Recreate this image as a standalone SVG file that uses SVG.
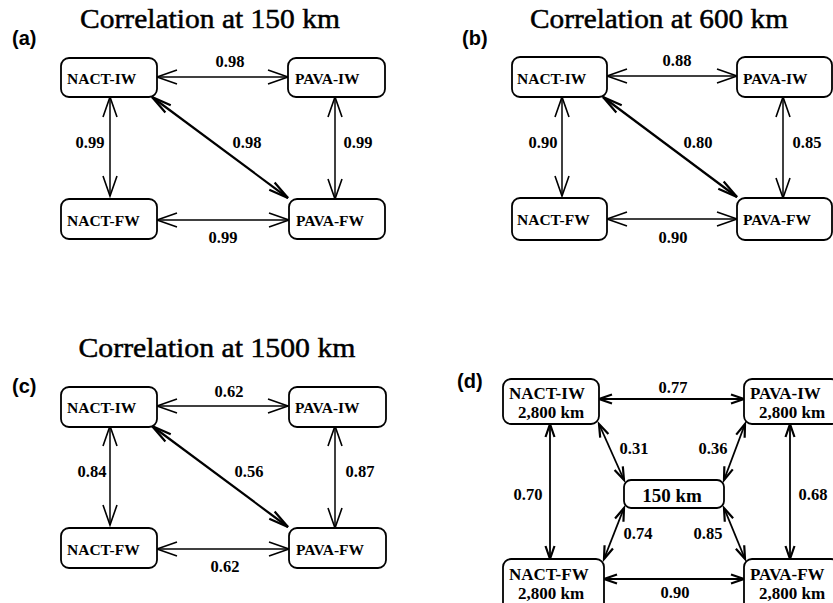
<svg xmlns="http://www.w3.org/2000/svg" width="833" height="603" viewBox="0 0 833 603">
<style>
.bg{fill:#fff}
.box{fill:#fff;stroke:#000;stroke-width:1.8}
.title{font-family:"Liberation Serif",serif;font-size:28px;fill:#000;stroke:#000;stroke-width:0.5;text-anchor:middle}
.plabel{font-family:"Liberation Sans",Arial,sans-serif;font-weight:bold;font-size:20px;fill:#000}
.nl{font-family:"Liberation Serif",serif;font-weight:bold;font-size:15.5px;fill:#000}
.nd{font-family:"Liberation Serif",serif;font-weight:bold;font-size:17px;fill:#000}
.num{font-family:"Liberation Serif",serif;font-weight:bold;font-size:16.5px;fill:#000;text-anchor:middle}
.km{font-family:"Liberation Serif",serif;font-weight:bold;font-size:19px;fill:#000;text-anchor:middle}
.a{fill:none;stroke:#000;stroke-width:1.5;marker-start:url(#ha);marker-end:url(#ha)}
.d{fill:none;stroke:#000;stroke-width:2.2;marker-start:url(#hd);marker-end:url(#hd)}
.s{fill:none;stroke:#000;stroke-width:1.8;marker-start:url(#hs);marker-end:url(#hs)}
</style>
<defs>
<marker id="ha" markerUnits="userSpaceOnUse" orient="auto-start-reverse" refX="0" refY="0" overflow="visible"><path d="M-20,-7 L0,0 L-20,7" fill="none" stroke="#000" stroke-width="1.6"/></marker>
<marker id="hd" markerUnits="userSpaceOnUse" orient="auto-start-reverse" refX="0" refY="0" overflow="visible"><path d="M-20,-4.5 L0,0 L-20,4.5" fill="none" stroke="#000" stroke-width="2.2"/></marker>
<marker id="hs" markerUnits="userSpaceOnUse" orient="auto-start-reverse" refX="0" refY="0" overflow="visible"><path d="M-13,-4.5 L0,0 L-13,4.5" fill="none" stroke="#000" stroke-width="2.2"/></marker>
</defs>
<rect class="bg" x="0" y="0" width="833" height="603"/>

<!-- titles and panel labels -->
<g id="labels">
<text class="title" x="210" y="28" textLength="260" lengthAdjust="spacingAndGlyphs">Correlation at 150 km</text>
<text class="title" x="659" y="28" textLength="258" lengthAdjust="spacingAndGlyphs">Correlation at 600 km</text>
<text class="title" x="217" y="357" textLength="277" lengthAdjust="spacingAndGlyphs">Correlation at 1500 km</text>
<text class="plabel" x="12" y="45">(a)</text>
<text class="plabel" x="462" y="45">(b)</text>
<text class="plabel" x="12" y="393">(c)</text>
<text class="plabel" x="457" y="388">(d)</text>
</g>

<!-- connectors -->
<g id="connectors">
<!-- (a) -->
<path class="a" d="M157,77 L288,77"/>
<path class="a" d="M157,220 L289,220"/>
<path class="a" d="M110,97 L110,196"/>
<path class="a" d="M335,97 L335,199"/>
<path class="d" d="M152,97 L288,198"/>
<!-- (b) -->
<path class="a" d="M607,76 L737,76"/>
<path class="a" d="M607,219 L737,219"/>
<path class="a" d="M562,97 L562,196"/>
<path class="a" d="M783,97 L783,198"/>
<path class="d" d="M603,97 L737,197"/>
<!-- (c) -->
<path class="a" d="M157,406 L288,406"/>
<path class="a" d="M157,549 L289,549"/>
<path class="a" d="M110,426 L110,525"/>
<path class="a" d="M335,426 L335,528"/>
<path class="d" d="M152,426 L288,527"/>
<!-- (d) -->
<path class="s" d="M599,399 L744,399"/>
<path class="s" d="M604,579 L744,579"/>
<path class="s" d="M550,424 L550,559"/>
<path class="s" d="M790,424 L790,559"/>
<path class="s" d="M599,424 L624,480"/>
<path class="s" d="M745,424 L724,480"/>
<path class="s" d="M624,508 L604,559"/>
<path class="s" d="M724,508 L745,559"/>
</g>

<g id="edge-labels">
<text class="num" x="230" y="67">0.98</text>
<text class="num" x="223" y="243">0.99</text>
<text class="num" x="90" y="148">0.99</text>
<text class="num" x="358" y="148">0.99</text>
<text class="num" x="247" y="148">0.98</text>

<text class="num" x="677" y="66">0.88</text>
<text class="num" x="673" y="243">0.90</text>
<text class="num" x="543" y="148">0.90</text>
<text class="num" x="807" y="148">0.85</text>
<text class="num" x="698" y="148">0.80</text>

<text class="num" x="229" y="397">0.62</text>
<text class="num" x="225" y="572">0.62</text>
<text class="num" x="92" y="477">0.84</text>
<text class="num" x="360" y="477">0.87</text>
<text class="num" x="249" y="477">0.56</text>

<text class="num" x="673" y="393">0.77</text>
<text class="num" x="675" y="598">0.90</text>
<text class="num" x="528" y="500">0.70</text>
<text class="num" x="813" y="500">0.68</text>
<text class="num" x="634" y="454">0.31</text>
<text class="num" x="713" y="454">0.36</text>
<text class="num" x="638" y="539">0.74</text>
<text class="num" x="708" y="539">0.85</text>
</g>

<!-- panel (a) nodes -->
<g id="a-nact-iw"><rect class="box" x="61" y="58" width="96" height="39" rx="8"/><text class="nl" x="67" y="84">NACT-IW</text></g>
<g id="a-pava-iw"><rect class="box" x="288" y="58" width="97" height="39" rx="8"/><text class="nl" x="295" y="84">PAVA-IW</text></g>
<g id="a-nact-fw"><rect class="box" x="61" y="199" width="96" height="40" rx="8"/><text class="nl" x="67" y="226">NACT-FW</text></g>
<g id="a-pava-fw"><rect class="box" x="289" y="199" width="96" height="40" rx="8"/><text class="nl" x="296" y="226">PAVA-FW</text></g>

<!-- panel (b) nodes -->
<g id="b-nact-iw"><rect class="box" x="512" y="57" width="95" height="40" rx="8"/><text class="nl" x="517" y="84">NACT-IW</text></g>
<g id="b-pava-iw"><rect class="box" x="737" y="57" width="95" height="40" rx="8"/><text class="nl" x="743" y="84">PAVA-IW</text></g>
<g id="b-nact-fw"><rect class="box" x="512" y="198" width="95" height="42" rx="8"/><text class="nl" x="517" y="225">NACT-FW</text></g>
<g id="b-pava-fw"><rect class="box" x="737" y="198" width="95" height="42" rx="8"/><text class="nl" x="743" y="225">PAVA-FW</text></g>

<!-- panel (c) nodes -->
<g id="c-nact-iw"><rect class="box" x="61" y="387" width="96" height="40" rx="8"/><text class="nl" x="67" y="413">NACT-IW</text></g>
<g id="c-pava-iw"><rect class="box" x="289" y="387" width="97" height="40" rx="8"/><text class="nl" x="295" y="413">PAVA-IW</text></g>
<g id="c-nact-fw"><rect class="box" x="61" y="528" width="96" height="40" rx="8"/><text class="nl" x="67" y="555">NACT-FW</text></g>
<g id="c-pava-fw"><rect class="box" x="289" y="528" width="97" height="40" rx="8"/><text class="nl" x="296" y="555">PAVA-FW</text></g>

<!-- panel (d) nodes -->
<g id="d-nact-iw"><rect class="box" x="503" y="379" width="96" height="45" rx="8"/><text class="nd" x="509" y="399">NACT-IW</text><text class="nd" x="518" y="418">2,800 km</text></g>
<g id="d-pava-iw"><rect class="box" x="744" y="379" width="95" height="45" rx="8"/><text class="nd" x="750" y="399">PAVA-IW</text><text class="nd" x="759" y="418">2,800 km</text></g>
<g id="d-150km"><rect class="box" x="624" y="480" width="100" height="28" rx="7"/><text class="km" x="672" y="502">150 km</text></g>
<g id="d-nact-fw"><rect class="box" x="503" y="559" width="101" height="55" rx="8"/><text class="nd" x="509" y="580">NACT-FW</text><text class="nd" x="518" y="599">2,800 km</text></g>
<g id="d-pava-fw"><rect class="box" x="744" y="559" width="95" height="55" rx="8"/><text class="nd" x="750" y="580">PAVA-FW</text><text class="nd" x="759" y="599">2,800 km</text></g>
</svg>
